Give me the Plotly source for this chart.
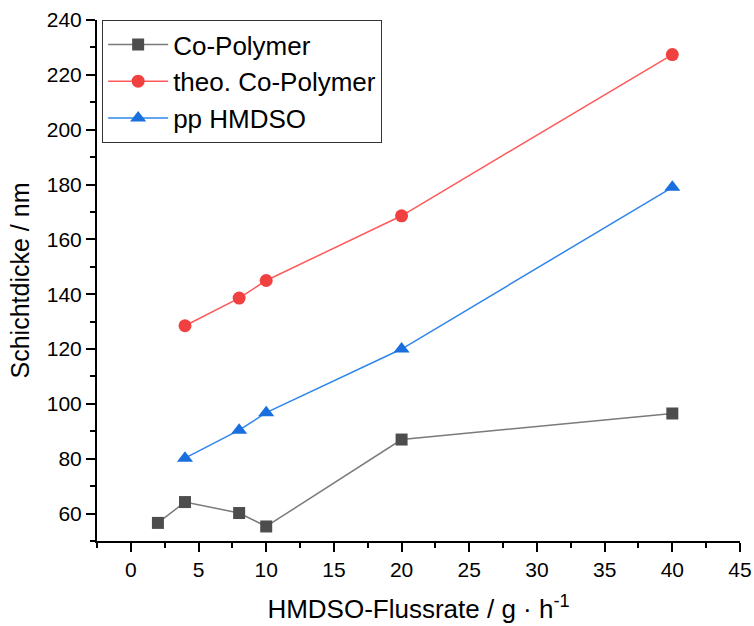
import plotly.graph_objects as go

# Schichtdicke vs. HMDSO flow rate
x_co = [2, 4, 8, 10, 20, 40]
y_co = [56.6, 64.2, 60.2, 55.3, 87.0, 96.5]

x_theo = [4, 8, 10, 20, 40]
y_theo = [128.5, 138.6, 145.0, 168.6, 227.4]

x_pp = [4, 8, 10, 20, 40]
y_pp = [80.2, 90.4, 96.8, 120.0, 179.0]

font = "Arial, Liberation Sans, sans-serif"

fig = go.Figure()
fig.add_trace(go.Scatter(
    x=x_co, y=y_co, mode="lines+markers", name="Co-Polymer",
    line=dict(color="#7a7a7a", width=1.5),
    marker=dict(symbol="square", size=12, color="#4d4d4d"),
))
fig.add_trace(go.Scatter(
    x=x_theo, y=y_theo, mode="lines+markers", name="theo. Co-Polymer",
    line=dict(color="#ff5a5a", width=1.5),
    marker=dict(symbol="circle", size=13, color="#f04040"),
))
fig.add_trace(go.Scatter(
    x=x_pp, y=y_pp, mode="lines+markers", name="pp HMDSO",
    line=dict(color="#2f86ea", width=1.5),
    marker=dict(symbol="triangle-up", size=14, color="#1a6fdf"),
))

axis_common = dict(
    showline=True, linecolor="black", linewidth=2,
    ticks="outside", ticklen=9, tickwidth=2, tickcolor="black",
    showgrid=False, zeroline=False, mirror=False, automargin=False,
    tickfont=dict(family=font, size=21, color="black"),
)

fig.update_xaxes(
    range=[-2.5, 45], tick0=0, dtick=5,
    minor=dict(ticks="outside", ticklen=5, tickwidth=2, tickcolor="black", dtick=2.5, tick0=0),
    title=dict(text="HMDSO-Flussrate / g · h<sup>-1</sup>",
               font=dict(family=font, size=26, color="black"), standoff=20),
    **axis_common,
)
fig.update_yaxes(
    range=[50, 240], tick0=0, dtick=20,
    minor=dict(ticks="outside", ticklen=5, tickwidth=2, tickcolor="black", dtick=10, tick0=0),
    title=dict(text="Schichtdicke / nm",
               font=dict(family=font, size=25, color="black"), standoff=10),
    **axis_common,
)

fig.update_layout(
    width=754, height=626,
    margin=dict(l=97, r=14, t=20, b=85),
    plot_bgcolor="white", paper_bgcolor="white",
    showlegend=True,
    legend=dict(
        x=0.008, y=1.0, xanchor="left", yanchor="top",
        bgcolor="white", bordercolor="#333333", borderwidth=1,
        font=dict(family=font, size=26, color="black"),
        itemwidth=60, tracegroupgap=0,
    ),
)

fig.write_html("out.html")
